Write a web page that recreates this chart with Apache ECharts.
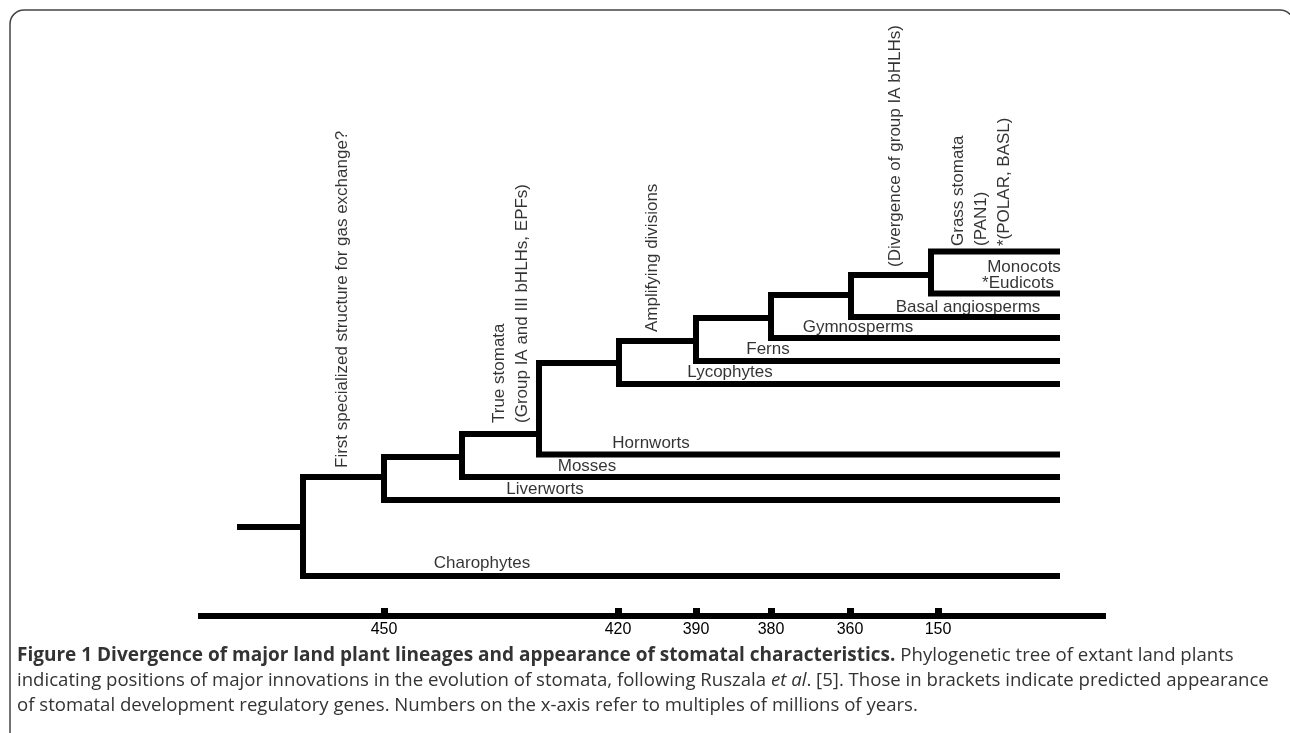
<!DOCTYPE html>
<html>
<head>
<meta charset="utf-8">
<title>Divergence of major land plant lineages</title>
<script src="https://cdn.jsdelivr.net/npm/echarts@6/dist/echarts.min.js"></script>
<style>
  html, body { margin: 0; padding: 0; background: #fff; }
  #main { width: 1290px; height: 733px; }
</style>
</head>
<body>
<div id="main"></div>
<script>
// time ticks on the bottom bar (millions of years) and where they sit along it
var ageLabels = ['450', '420', '390', '380', '360', '150'];
var agePos = [186, 420, 498, 573, 652, 740];

// internal nodes, root first: position along the bar, level where the parent joins,
// upper branch level and lower (lineage) branch level
var nodePos = [105, 186, 264, 341, 421, 498, 573, 653, 733];
var nodeJoin = [287, 237, 217, 194, 123, 101, 78, 55, 35];
var nodeUpper = [237, 217, 194, 123, 101, 78, 55, 35, 11.5];
var nodeLower = [336, 260, 237, 214.5, 144, 121, 98, 77, 53.5];
var rootStart = 39;
var tipEnd = 862;

// lineages, one per lower branch, plus Monocots on the last upper branch
var lineages = ['Charophytes', 'Liverworts', 'Mosses', 'Hornworts', 'Lycophytes', 'Ferns',
  'Gymnosperms', 'Basal angiosperms', '*Eudicots', 'Monocots'];
var lineageLabelX = [284, 347, 389, 453, 532, 570, 660, 770, 820, 826];
var lineageLabelY = [323, 249, 226, 203, 132, 109, 87, 67, 43, 27];

// innovations written along the branches
var events = [
  'First specialized structure for gas exchange?',
  'True stomata\n(Group IA and III bHLHs, EPFs)',
  'Amplifying divisions',
  '(Divergence of group IA bHLHs)',
  'Grass stomata\n(PAN1)\n*(POLAR, BASL)'
];
var eventX = [144, 313, 454, 697, 783];
var eventY = [228, 183, 92, 27, 6];

(function(){
  var myChart = echarts.init(document.getElementById('main'));
  var font = '"Liberation Sans", Arial, Helvetica, sans-serif';
  var capFont = '"Open Sans", sans-serif';
  var branch = { color: '#000', width: 6, cap: 'butt', join: 'miter' };

  var series = [];
  // root stub
  series.push({
    type: 'line', symbol: 'none', silent: true, lineStyle: branch,
    data: [[rootStart, nodeJoin[0]], [nodePos[0], nodeJoin[0]]]
  });
  nodePos.forEach(function(x, i){
    var upperEnd = i < nodePos.length - 1 ? nodePos[i + 1] : tipEnd;
    series.push({
      type: 'line', symbol: 'none', silent: true, lineStyle: branch,
      data: [[upperEnd, nodeUpper[i]], [x, nodeUpper[i]], [x, nodeLower[i]], [tipEnd, nodeLower[i]]]
    });
  });

  series.push({
    type: 'scatter', symbolSize: 0, silent: true,
    data: lineages.map(function(n, i){ return { name: n, value: [lineageLabelX[i], lineageLabelY[i]] }; }),
    label: {
      show: true, position: [0, 0], align: 'center', verticalAlign: 'middle',
      formatter: '{b}', color: '#000', fontSize: 17, fontFamily: font
    }
  });

  series.push({
    type: 'scatter', symbolSize: 0, silent: true,
    data: events.map(function(n, i){ return { name: n, value: [eventX[i], eventY[i]] }; }),
    label: {
      show: true, position: [0, 0], rotate: 90, align: 'left', verticalAlign: 'middle',
      formatter: '{b}', color: '#000', fontSize: 17, lineHeight: 23, fontFamily: font
    }
  });

  option = {
    animation: false,
    backgroundColor: '#fff',
    grid: { left: 198, right: 184, top: 240, bottom: 117 },
    xAxis: {
      type: 'value', min: 0, max: 908,
      axisLine: { show: true, onZero: false, lineStyle: { color: '#000', width: 6, cap: 'butt' } },
      axisTick: { show: true, inside: true, length: 8, customValues: agePos, lineStyle: { color: '#000', width: 7 } },
      axisLabel: {
        show: true, customValues: agePos, margin: 6, color: '#000', fontSize: 16, fontFamily: font,
        formatter: function(v){
          var k = agePos.indexOf(v);
          return k >= 0 ? ageLabels[k] : '';
        }
      },
      splitLine: { show: false }
    },
    yAxis: { type: 'value', min: 0, max: 376, inverse: true, show: false },
    graphic: [
      {
        type: 'rect', silent: true,
        shape: { x: 10, y: 10, width: 1284, height: 800, r: 14 },
        style: { fill: 'none', stroke: '#444', lineWidth: 1.5 }
      },
      {
        type: 'text', left: 17, top: 643, silent: true,
        style: {
          text: '{b|Figure 1 Divergence of major land plant lineages and appearance of stomatal characteristics.} Phylogenetic tree of extant land plants\n' +
            'indicating positions of major innovations in the evolution of stomata, following Ruszala {i|et al}. [5]. Those in brackets indicate predicted appearance\n' +
            'of stomatal development regulatory genes. Numbers on the x-axis refer to multiples of millions of years.',
          fontSize: 18.6, fontFamily: capFont, fill: '#333', lineHeight: 25,
          rich: {
            b: { fontWeight: 'bold', fontSize: 19, fontFamily: capFont, fill: '#333', lineHeight: 25 },
            i: { fontStyle: 'italic', fontSize: 18.6, fontFamily: capFont, fill: '#333', lineHeight: 25 }
          }
        }
      }
    ],
    series: series
  };
  myChart.setOption(option);
})();
</script>
</body>
</html>
